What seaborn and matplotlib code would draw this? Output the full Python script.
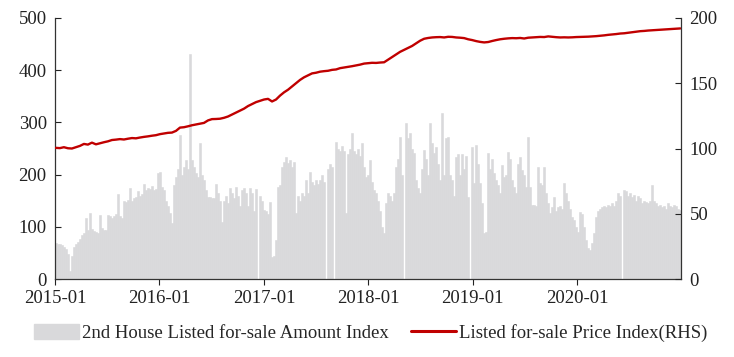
import matplotlib
matplotlib.use("Agg")
import matplotlib.pyplot as plt
import matplotlib.dates as mdates
from matplotlib.patches import Patch
from matplotlib.lines import Line2D
import pandas as pd
import seaborn as sns

# weekly listed-for-sale amount index (left axis)
amount_2015 = [70, 68, 67, 65, 62, 58, 48, 15, 45, 62, 68, 72, 76, 84, 88, 117, 95, 126,
               96, 92, 90, 88, 122, 98, 95, 94, 122, 120, 118, 121, 124, 163, 120, 117,
               150, 148, 152, 174, 150, 155, 158, 168, 160, 163, 183, 170, 175, 172, 178,
               170, 173, 203]
amount_2016 = [205, 176, 170, 150, 140, 126, 107, 180, 195, 210, 276, 200, 215, 228, 210,
               431, 228, 215, 203, 195, 260, 200, 190, 170, 158, 157, 155, 156, 182, 165,
               150, 110, 150, 160, 145, 175, 165, 155, 176, 160, 140, 170, 175, 165, 140,
               174, 165, 130, 172, 0, 160, 150]
amount_2017 = [132, 130, 125, 147, 42, 45, 75, 176, 180, 215, 225, 233, 222, 228, 215, 225,
               126, 160, 150, 165, 160, 190, 165, 205, 185, 180, 190, 182, 190, 200, 185, 0,
               210, 220, 215, 0, 262, 250, 245, 255, 245, 126, 240, 250, 280, 245, 240, 250,
               235, 260, 215, 195]
amount_2018 = [200, 228, 185, 170, 165, 150, 130, 100, 88, 145, 165, 160, 150, 165, 215, 230,
               272, 200, 0, 299, 270, 280, 250, 241, 190, 175, 165, 210, 247, 230, 200, 299,
               260, 241, 253, 220, 190, 318, 200, 270, 272, 200, 190, 160, 234, 240, 200,
               240, 210, 235, 157, 0]
amount_2019 = [253, 184, 257, 220, 184, 146, 88, 90, 241, 210, 230, 203, 190, 180, 165, 218,
               195, 200, 243, 230, 190, 176, 165, 220, 233, 209, 200, 176, 272, 176, 141, 141,
               140, 215, 184, 180, 215, 165, 145, 126, 138, 157, 130, 138, 140, 135, 184, 165,
               150, 135, 119, 113]
amount_2020 = [100, 90, 128, 125, 100, 75, 60, 56, 70, 88, 119, 130, 135, 138, 140, 138, 142,
               140, 145, 140, 150, 165, 160, 0, 170, 168, 160, 165, 158, 162, 150, 160, 155,
               145, 150, 148, 145, 150, 180, 150, 145, 140, 142, 138, 140, 135, 145, 140, 138,
               142, 140, 135, 132]
amount = amount_2015 + amount_2016 + amount_2017 + amount_2018 + amount_2019 + amount_2020

# fortnightly listed-for-sale price index (right axis)
price = [100.5, 100.3, 101, 100.2, 100, 101, 102, 103.5, 103, 104.5, 103.2, 104, 104.8,
         105.5, 106.5, 106.8, 107.2, 106.9, 107.5, 108, 107.8, 108.4, 108.9, 109.3, 109.8,
         110.2, 111, 111.5, 112, 112.2, 113.5, 116, 116.3, 117, 117.8, 118.4, 119, 119.6,
         121.5, 122.5, 122.6, 122.8, 123.5, 124.5, 126, 127.5, 129, 130.5, 132.5, 134,
         135.5, 136.5, 137.5, 138, 136, 137.5, 140.5, 143, 145, 147.5, 150, 152.5, 154.5,
         156, 157.5, 158, 158.8, 159.2, 159.5, 160.2, 160.5, 161.5, 162, 162.5, 163, 163.6,
         164.2, 165, 165.3, 165.6, 165.5, 165.8, 166, 168, 170, 172, 174, 175.5, 177, 178.5,
         180.5, 182.5, 184, 184.6, 185, 185.2, 185.3, 185, 185.5, 185.4, 185, 184.8, 184.5,
         183.6, 183, 182.2, 181.6, 181.2, 181.5, 182.3, 183, 183.6, 184, 184.3, 184.5, 184.4,
         184.6, 184.2, 184.8, 185, 185.2, 185.4, 185.3, 185.8, 185.5, 185.2, 185, 185.1, 185,
         185.1, 185.3, 185.4, 185.5, 185.6, 185.8, 186, 186.3, 186.6, 187, 187.3, 187.6, 188,
         188.2, 188.6, 189, 189.4, 189.8, 190, 190.3, 190.5, 190.7, 190.9, 191.1, 191.3,
         191.5, 191.7, 191.9]

tick_years = [2015, 2016, 2017, 2018, 2019, 2020]
tick_labels = ["2015-01", "2016-01", "2017-01", "2018-01", "2019-01", "2020-01"]

amount_dates = pd.date_range("2015-01-04", periods=len(amount), freq="7D")
price_dates = pd.date_range("2015-01-04", periods=len(price), freq="14D")

df_amt = pd.DataFrame({"x": mdates.date2num(amount_dates), "v": amount})
df_price = pd.DataFrame({"x": mdates.date2num(price_dates), "v": price})

sns.set_style("ticks")
plt.rcParams["font.family"] = ["Liberation Serif", "DejaVu Serif"]
plt.rcParams["font.size"] = 13.5

fig, ax = plt.subplots(figsize=(7.34, 3.57), dpi=100)
fig.subplots_adjust(left=0.075, right=0.928, top=0.95, bottom=0.218)

bar_color = "#d9d9db"
line_color = "#c00000"

sns.barplot(data=df_amt, x="x", y="v", native_scale=True, width=1.0, color=bar_color,
            errorbar=None, linewidth=0.4, edgecolor=bar_color, saturation=1, ax=ax)
ax.set_ylim(0, 500)
ax.set_yticks(range(0, 501, 100))
ax.set_xlim(mdates.date2num(pd.Timestamp("2015-01-01")),
            mdates.date2num(pd.Timestamp("2020-12-30")))
ax.set_xticks([mdates.date2num(pd.Timestamp(f"{y}-01-01")) for y in tick_years])
ax.set_xticklabels(tick_labels)
ax.set_xlabel("")
ax.set_ylabel("")

ax2 = ax.twinx()
sns.lineplot(data=df_price, x="x", y="v", color=line_color, linewidth=1.7, ax=ax2)
ax2.set_ylim(0, 200)
ax2.set_yticks(range(0, 201, 50))
ax2.set_ylabel("")
ax2.set_xlabel("")

for a in (ax, ax2):
    a.spines["top"].set_visible(False)
    for s in a.spines.values():
        s.set_color("#333333")
        s.set_linewidth(0.9)
ax.spines["right"].set_visible(False)
ax2.spines["left"].set_visible(False)
ax2.spines["bottom"].set_visible(False)
ax.tick_params(axis="y", direction="in", length=4, colors="#222222", pad=6)
ax.tick_params(axis="x", direction="out", length=4, colors="#222222", pad=4)
ax2.tick_params(axis="y", direction="in", length=4, colors="#222222", pad=6)

handles = [Patch(facecolor=bar_color, edgecolor=bar_color),
           Line2D([0], [0], color=line_color, lw=2.2)]
labels = ["2nd House Listed for-sale Amount Index", "Listed for-sale Price Index(RHS)"]
fig.legend(handles, labels, loc="center", bbox_to_anchor=(0.505, 0.067), ncol=2,
           frameon=False, handlelength=2.4, handleheight=0.9, handletextpad=0.15,
           columnspacing=1.2, fontsize=13.5)

fig.savefig("out.png", dpi=100)
